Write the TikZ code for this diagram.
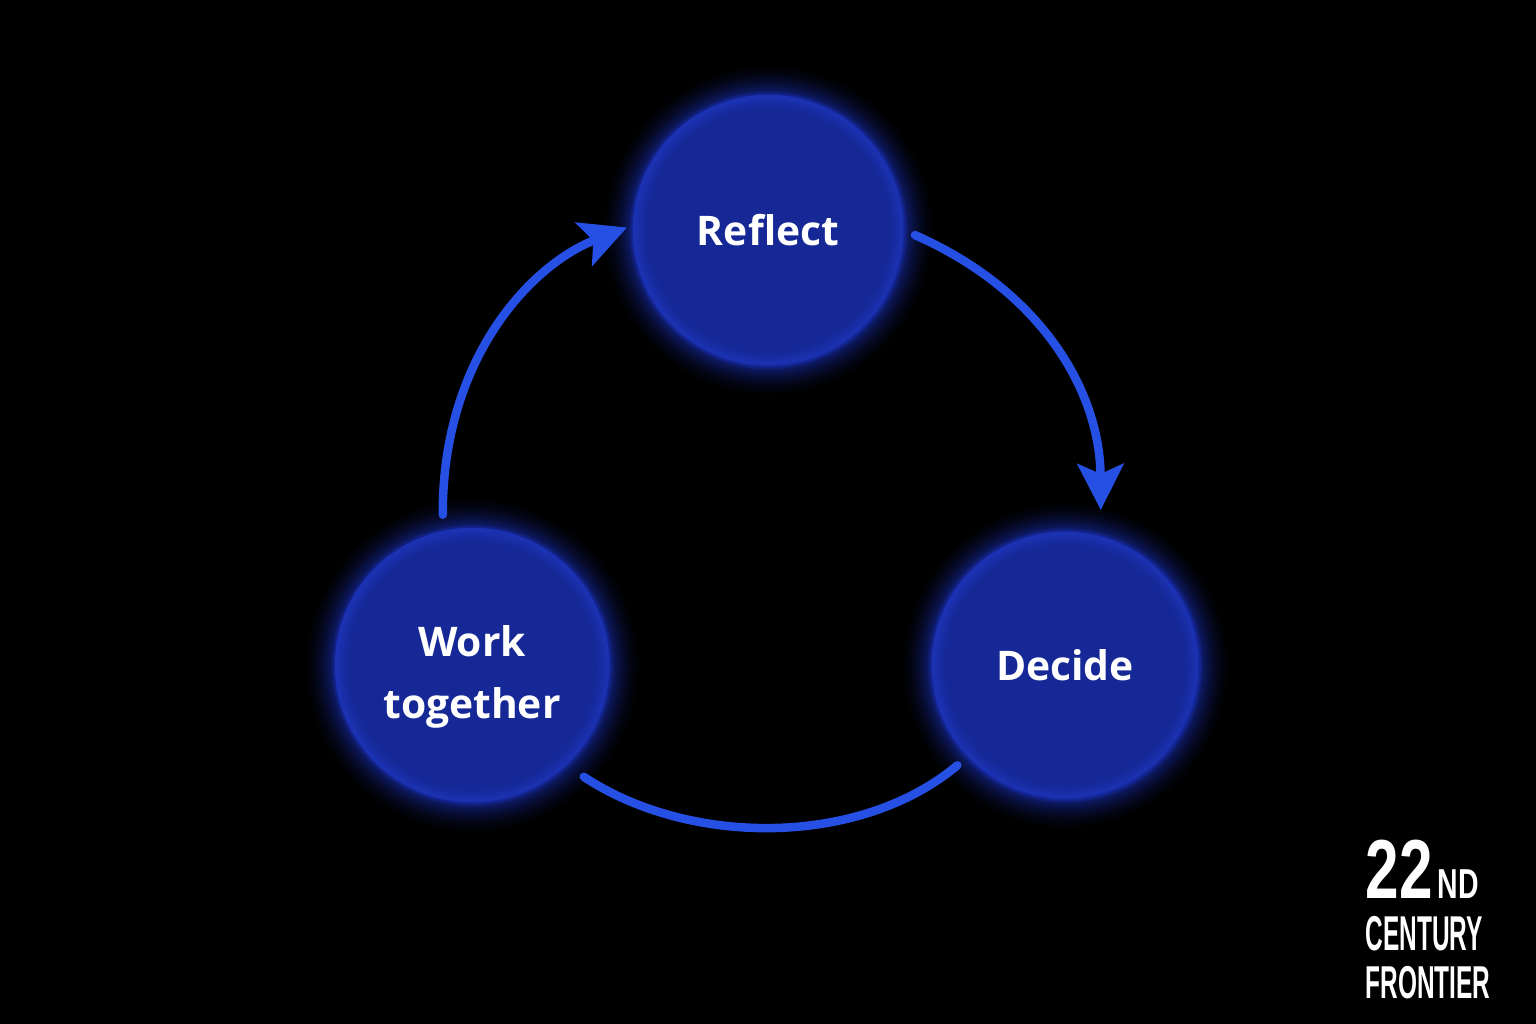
\documentclass[tikz,border=0pt]{standalone}
\usepackage{fontspec}
\usepackage{graphicx}
\setmainfont{Open Sans}
\newfontfamily\logofont{Liberation Sans}
\usetikzlibrary{arrows.meta,calc}
\definecolor{circc}{RGB}{21,40,150}
\definecolor{circrim}{RGB}{27,50,180}
\definecolor{glowc}{RGB}{22,42,165}
\definecolor{arrc}{RGB}{38,80,228}
\pgfdeclareradialshading{bglow}{\pgfpoint{0bp}{0bp}}{color(0bp)=(glowc); color(20.4bp)=(glowc); color(21.2bp)=(glowc!55!black); color(22.5bp)=(glowc!28!black); color(23.8bp)=(glowc!10!black); color(25bp)=(black); color(50bp)=(black)}
\pgfdeclareradialshading{bfill}{\pgfpoint{0bp}{0bp}}{color(0bp)=(circc); color(22.5bp)=(circc); color(25bp)=(circrim); color(50bp)=(circrim)}
\tikzset{
  bubble/.style={circle, shading=bfill, draw=none, minimum size=#1, inner sep=0pt,
    text=white, font=\fontsize{11.6}{16.3}\selectfont\bfseries, align=center},
  conn/.style={draw=arrc, line width=0.085cm, line cap=round},
  arrowed/.style={conn, -{Stealth[length=0.46cm, width=0.46cm, inset=0.1cm]}},
  logo/.style={text=white, inner sep=0pt, anchor=base west}
}
\begin{document}
\begin{tikzpicture}[x=0.01cm,y=0.01cm]
\useasboundingbox (0,0) rectangle (1536,-1024);
\fill[black] (0,0) rectangle (1536,-1024);
% glows
\shade[shading=bglow] (768,-230) circle (1.65cm);
\shade[shading=bglow] (472,-665) circle (1.67cm);
\shade[shading=bglow] (1065,-665) circle (1.63cm);
% nodes
\node[bubble=2.70cm] (r) at (768,-230) {Reflect};
\node[bubble=2.74cm, text depth=0pt] (w) at (472,-665) {\raisebox{0.27cm}{\begin{tabular}{@{}c@{}}Work\\[1.5pt]together\end{tabular}}};
\node[bubble=2.66cm] (d) at (1065,-665) {Decide};
% connector ends
\coordinate (ls) at ([shift={(101:1.53cm)}]w.center);
\coordinate (le) at ([shift={(179:1.41cm)}]r.center);
\coordinate (rs) at ([shift={(-2:1.47cm)}]r.center);
\coordinate (re) at ([shift={(77:1.59cm)}]d.center);
\coordinate (bs) at ([shift={(-45:1.58cm)}]w.center);
\coordinate (be) at ([shift={(223:1.47cm)}]d.center);
% connectors
\draw[arrowed] (ls) .. controls (442,-360) and (530,-265) .. (le);
\draw[arrowed] (rs) .. controls (1040,-290) and (1100,-390) .. (re);
\draw[conn] (bs) .. controls (690,-847) and (860,-847) .. (be);
% logo
\node[logo] (l22) at (1365,-898) {\scalebox{0.72}[1]{\logofont\bfseries\fontsize{23.8}{24}\selectfont 22}};
\node[logo] (lnd) at (1437,-898) {\scalebox{0.68}[1]{\logofont\bfseries\fontsize{11.9}{12}\selectfont ND}};
\node[logo] (lc) at (1365,-950) {\scalebox{0.5}[1]{\logofont\bfseries\fontsize{13.9}{14}\selectfont CENTURY}};
\node[logo] (lf) at (1365,-998) {\scalebox{0.53}[1]{\logofont\bfseries\fontsize{13.1}{14}\selectfont FRONTIER}};
\end{tikzpicture}
\end{document}
